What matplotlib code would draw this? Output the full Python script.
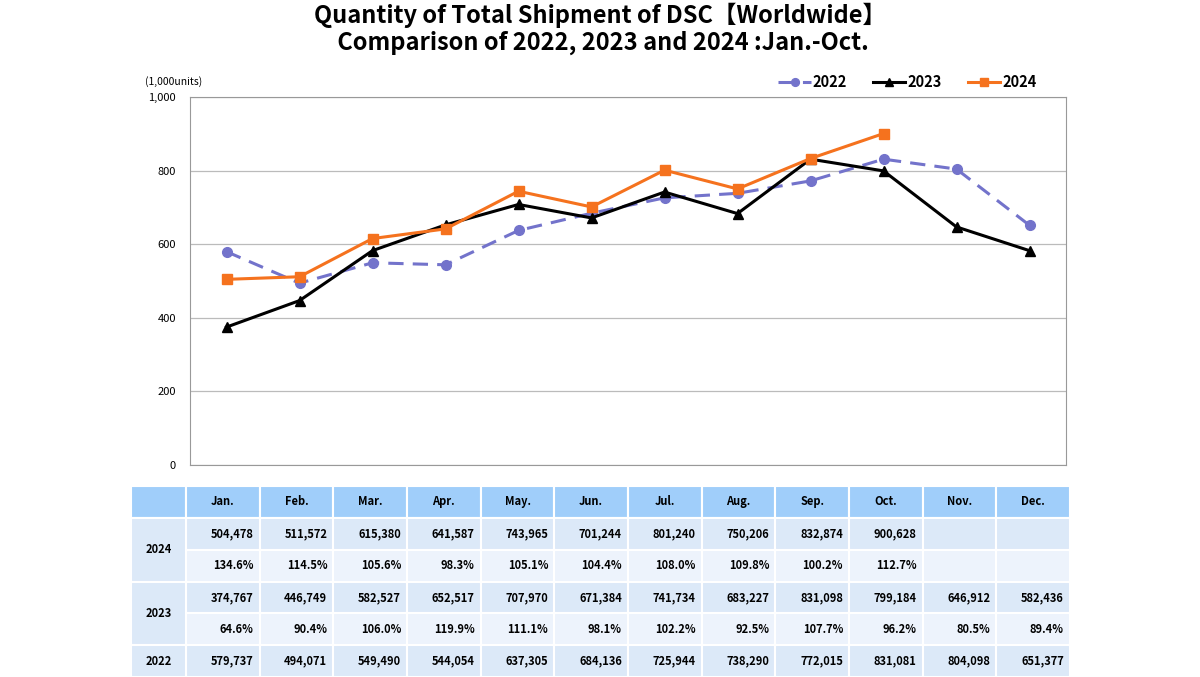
import matplotlib
matplotlib.use("Agg")
import matplotlib.pyplot as plt
from matplotlib.patches import Rectangle

months = ["Jan.", "Feb.", "Mar.", "Apr.", "May.", "Jun.", "Jul.", "Aug.", "Sep.", "Oct.", "Nov.", "Dec."]
v2024 = [504478, 511572, 615380, 641587, 743965, 701244, 801240, 750206, 832874, 900628]
p2024 = [134.6, 114.5, 105.6, 98.3, 105.1, 104.4, 108.0, 109.8, 100.2, 112.7]
v2023 = [374767, 446749, 582527, 652517, 707970, 671384, 741734, 683227, 831098, 799184, 646912, 582436]
p2023 = [64.6, 90.4, 106.0, 119.9, 111.1, 98.1, 102.2, 92.5, 107.7, 96.2, 80.5, 89.4]
v2022 = [579737, 494071, 549490, 544054, 637305, 684136, 725944, 738290, 772015, 831081, 804098, 651377]

plt.rcParams['font.family'] = ['Noto Sans CJK JP', 'DejaVu Sans']
W, H = 1200, 677
fig = plt.figure(figsize=(W / 100, H / 100), dpi=100)

fig.text(0.5, 1 - 15 / H, "Quantity of Total Shipment of DSC\u3010Worldwide\u3011", ha="center", va="center",
         fontsize=17, fontweight="bold")
fig.text(0.5, 1 - 43 / H, " Comparison of 2022, 2023 and 2024 :Jan.-Oct.", ha="center", va="center",
         fontsize=17, fontweight="bold")

# chart axes
ax = fig.add_axes([190 / W, 1 - 465 / H, 876 / W, 368 / H])
x_all = [i + 0.5 for i in range(12)]
c22, c23, c24 = "#7373CB", "#000000", "#F5721E"
ax.plot(x_all[:len(v2022)], [v / 1000 for v in v2022], color=c22, lw=2.2, ls=(0, (5, 3)),
        marker="o", ms=7, label="2022", zorder=3)
ax.plot(x_all[:len(v2023)], [v / 1000 for v in v2023], color=c23, lw=2.2,
        marker="^", ms=7, label="2023", zorder=4)
ax.plot(x_all[:len(v2024)], [v / 1000 for v in v2024], color=c24, lw=2.2,
        marker="s", ms=7, label="2024", zorder=5)
ax.set_xlim(0, 12)
ax.set_ylim(0, 1000)
ax.set_yticks([0, 200, 400, 600, 800, 1000])
ax.set_yticklabels(["0", "200", "400", "600", "800", "1,000"], fontsize=8)
ax.set_xticks([])
ax.yaxis.grid(True, color="#BBBBBB", lw=0.9)
ax.set_axisbelow(True)
for s in ax.spines.values():
    s.set_color("#999999")
ax.tick_params(axis="y", length=0, pad=10)
fig.text(145 / W, 1 - 82 / H, "(1,000units)", fontsize=7.5, ha="left", va="center")
leg = ax.legend(loc="lower right", bbox_to_anchor=(0.975, 1.0), ncol=3, frameon=False,
                prop={"weight": "bold", "size": 10.5}, handlelength=2.2, handletextpad=0.15,
                columnspacing=1.8, borderaxespad=0.1, markerscale=0.8)

# table axes
tx0, tx1, ty0, ty1 = 131, 1070, 486, 677
tab = fig.add_axes([tx0 / W, 1 - ty1 / H, (tx1 - tx0) / W, (ty1 - ty0) / H])
tab.set_xlim(0, tx1 - tx0)
tab.set_ylim(ty1 - ty0, 0)
tab.axis("off")
label_w = 55
col_w = (tx1 - tx0 - label_w) / 12
row_h = (ty1 - ty0) / 6
hdr_c, val_c, pct_c, lab_c = "#A0CEFA", "#DCE9F8", "#EDF3FC", "#DCE9F8"

def cell(x, y, w, h, color):
    tab.add_patch(Rectangle((x, y), w, h, facecolor=color, edgecolor="white", lw=1.5))

fs = 8
# header
cell(0, 0, label_w, row_h, hdr_c)
for j, m in enumerate(months):
    x = label_w + j * col_w
    cell(x, 0, col_w, row_h, hdr_c)
    tab.text(x + col_w / 2, row_h / 2, m, ha="center", va="center", fontsize=fs, fontweight="bold")

rows = [
    ("val", v2024, val_c),
    ("pct", p2024, pct_c),
    ("val", v2023, val_c),
    ("pct", p2023, pct_c),
    ("val", v2022, val_c),
]
for r, (kind, data, color) in enumerate(rows):
    y = (r + 1) * row_h
    for j in range(12):
        x = label_w + j * col_w
        cell(x, y, col_w, row_h, color)
        if j < len(data):
            s = f"{data[j]:,}" if kind == "val" else f"{data[j]:.1f}%"
            tab.text(x + col_w - 6, y + row_h / 2, s, ha="right", va="center", fontsize=fs, fontweight="bold")

# year label cells
for yr, r0, nr in [("2024", 1, 2), ("2023", 3, 2), ("2022", 5, 1)]:
    cell(0, r0 * row_h, label_w, nr * row_h, lab_c)
    tab.text(label_w / 2, (r0 + nr / 2) * row_h, yr, ha="center", va="center", fontsize=fs, fontweight="bold")

fig.savefig("out.png", dpi=100)
